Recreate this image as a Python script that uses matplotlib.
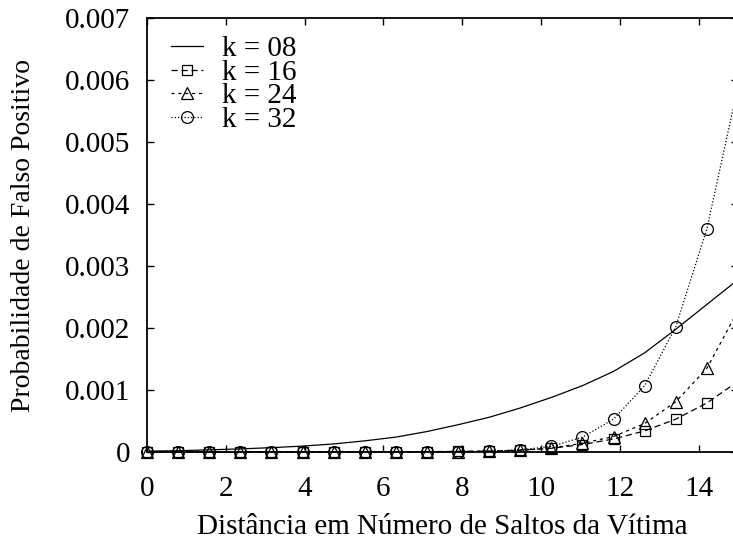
import matplotlib
matplotlib.use("Agg")
import matplotlib.pyplot as plt

# sample positions (20 samples over 0..15)
x = [i * 15 / 19 for i in range(20)]

k08 = [0.015, 0.02, 0.035, 0.05, 0.07, 0.095, 0.13, 0.18, 0.24, 0.33,
       0.44, 0.56, 0.71, 0.88, 1.07, 1.30, 1.60, 1.98, 2.38, 2.78]
k16 = [0.0, 0.0, 0.0, 0.0, 0.0, 0.0, 0.0, 0.0, 0.002, 0.006,
       0.01, 0.015, 0.03, 0.06, 0.12, 0.21, 0.34, 0.53, 0.79, 1.14]
k24 = [0.0, 0.0, 0.0, 0.0, 0.0, 0.0, 0.0, 0.0, 0.001, 0.004,
       0.008, 0.012, 0.025, 0.065, 0.14, 0.25, 0.46, 0.81, 1.35, 2.28]
k32 = [0.0, 0.0, 0.0, 0.0, 0.0, 0.0, 0.0, 0.0, 0.001, 0.003,
       0.006, 0.012, 0.035, 0.09, 0.24, 0.53, 1.07, 2.02, 3.60, 5.90]
scale = 1e-3

labels = ["k = 08", "k = 16", "k = 24", "k = 32"]
xticks = [0, 2, 4, 6, 8, 10, 12, 14]
yticks = [0, 0.001, 0.002, 0.003, 0.004, 0.005, 0.006, 0.007]
yticklabels = ["0", "0.001", "0.002", "0.003", "0.004", "0.005", "0.006", "0.007"]

plt.rcParams['font.family'] = ['Liberation Serif', 'DejaVu Serif']
FS = 21

fig = plt.figure(figsize=(7.33, 5.43), dpi=100)
W, H = 733, 543
x0, x1, ytop, ybot = 147, 738, 18, 452
ax = fig.add_axes([x0 / W, 1 - ybot / H, (x1 - x0) / W, (ybot - ytop) / H])

lw = 0.9
mk_every = list(range(len(x) - 1))
ax.plot(x, [v * scale for v in k08], color='black', lw=lw, label=labels[0], clip_on=False)
ax.plot(x, [v * scale for v in k16], color='black', lw=lw, ls=(0, (5, 3)),
        marker='s', ms=7.5, mfc='none', mec='black', mew=0.9, markevery=mk_every,
        label=labels[1], clip_on=False)
ax.plot(x, [v * scale for v in k24], color='black', lw=lw, ls=(0, (2.5, 3)),
        marker='^', ms=8, mfc='none', mec='black', mew=0.9, markevery=mk_every,
        label=labels[2], clip_on=False)
ax.plot(x, [v * scale for v in k32], color='black', lw=lw, ls=(0, (1, 1.6)),
        marker='o', ms=8.5, mfc='none', mec='black', mew=0.9, markevery=mk_every,
        label=labels[3], clip_on=False)

ax.set_xlim(0, 15)
ax.set_ylim(0, 0.007)
ax.set_xticks(xticks)
ax.set_xticklabels([str(t) for t in xticks])
ax.set_yticks(yticks)
ax.set_yticklabels(yticklabels)
ax.tick_params(direction='in', length=5, width=1, top=True, right=True,
               labelsize=FS)
ax.tick_params(axis='y', pad=12)
ax.tick_params(axis='x', pad=17)
for s in ax.spines.values():
    s.set_linewidth(1.3)

ax.set_xlabel("Distância em Número de Saltos da Vítima", fontsize=FS)
ax.xaxis.set_label_coords(0.5, -(527 - ybot) / (ybot - ytop))
ax.xaxis.label.set_va('center')
ax.set_ylabel("Probabilidade de Falso Positivo", fontsize=20)
ax.yaxis.label.set_va('center')
ax.yaxis.set_label_coords(-(x0 - 24) / (x1 - x0), 0.5)

leg = ax.legend(loc='upper left', bbox_to_anchor=(24 / (x1 - x0), 1 - 18 / (ybot - ytop)),
                frameon=False, fontsize=FS, handlelength=1.1, handletextpad=0.65,
                labelspacing=-0.1, borderaxespad=0, borderpad=0, numpoints=1)

fig.savefig("out.png", dpi=100)
